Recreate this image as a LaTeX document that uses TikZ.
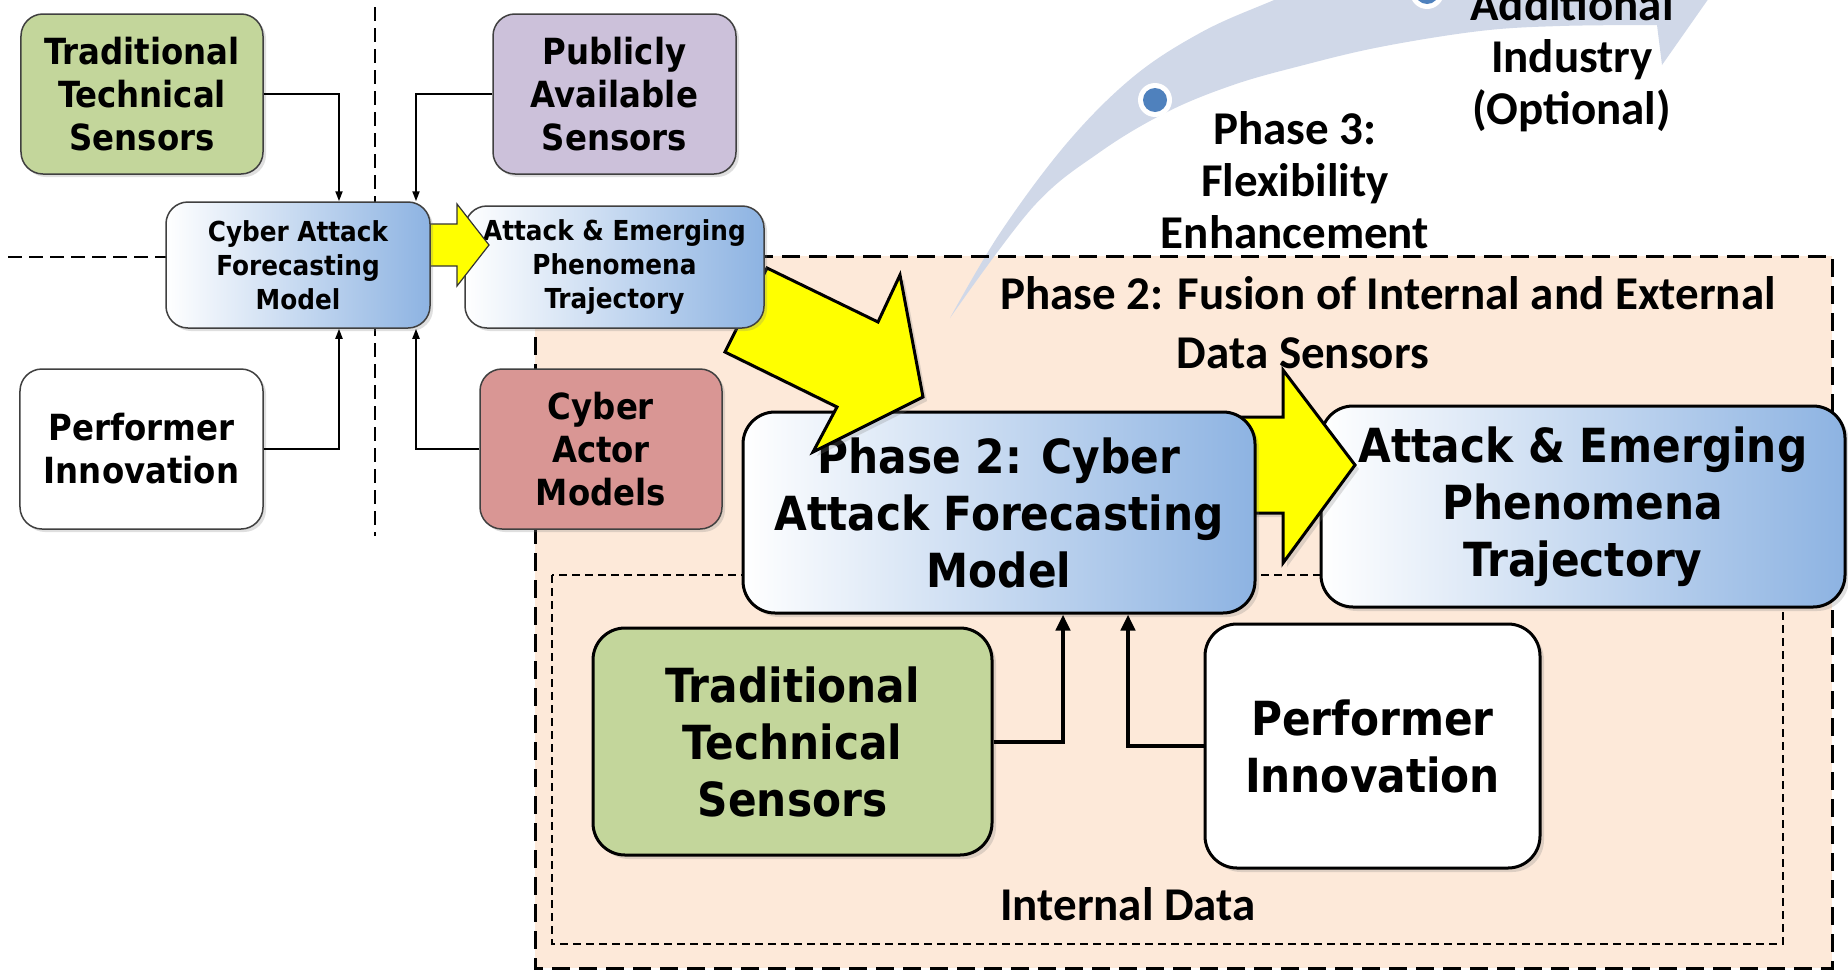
\documentclass[tikz,border=0pt]{standalone}
\usepackage{fontspec}
\usetikzlibrary{shadows,arrows.meta}
\newfontfamily\tahfont{DejaVu Sans Condensed}
\newfontfamily\calfont{Carlito}
\definecolor{grn}{RGB}{195,214,155}
\definecolor{prp}{RGB}{204,193,218}
\definecolor{redb}{RGB}{217,150,148}
\definecolor{peach}{RGB}{253,233,217}
\definecolor{blu}{RGB}{141,179,226}
\definecolor{bandc}{RGB}{208,216,232}
\definecolor{dotb}{RGB}{79,129,189}
\definecolor{yel}{RGB}{255,255,0}
\begin{document}
\begin{tikzpicture}[x=1bp,y=-1bp,
 sbox/.style={draw=black!75, line width=1.5bp, rounded corners=22bp, align=center, inner sep=0pt,
   drop shadow={shadow xshift=3bp, shadow yshift=-3bp, opacity=0.25}},
 bbox/.style={draw=black, line width=3bp, rounded corners=32bp, align=center, inner sep=0pt,
   drop shadow={shadow xshift=4bp, shadow yshift=-4bp, opacity=0.25}},
 bshade/.style={left color=white, right color=blu},
 fs/.style={font=\tahfont\bfseries\fontsize{27.5bp}{34bp}\selectfont},
 fm/.style={font=\tahfont\bfseries\fontsize{36bp}{43bp}\selectfont},
 fl/.style={font=\tahfont\bfseries\fontsize{47bp}{57bp}\selectfont},
 fc/.style={font=\calfont\bfseries\fontsize{47bp}{52bp}\selectfont, align=center, inner sep=0pt},
 conn/.style={line width=2bp, -{Triangle[length=10bp,width=7bp]}},
 bconn/.style={line width=4bp, -{Triangle[length=16bp,width=14bp]}},
 yarrow/.style={fill=yel, draw=black, line width=3bp, line join=miter,
   drop shadow={shadow xshift=4bp, shadow yshift=-4bp, opacity=0.25}},
 syarrow/.style={fill=yel, draw=black!80, line width=1.2bp, line join=miter},
 ldash/.style={line width=2bp, dash pattern=on 14bp off 7bp},
]
\useasboundingbox (0,0) rectangle (1848,978);
\fill[white] (0,0) rectangle (1848,978);

% left dashed guide lines
\coordinate (v1) at (375,7);
\coordinate (v2) at (375,536);
\coordinate (h1) at (8,257);
\coordinate (h2) at (166,257);
\draw[ldash] (v1) -- (v2);
\draw[ldash] (h1) -- (h2);

% phase 2 region
\coordinate (o1) at (535,256);
\coordinate (o2) at (1832,968);
\fill[peach] (o1) rectangle (o2);

% curved band (phase 3)
\begin{scope}
\clip (0,0) rectangle (1848,978);
\fill[bandc] plot[smooth, tension=0.6] coordinates {(950,318) (1000,233) (1067,143) (1133,77) (1200,33) (1267,3) (1340,-25) (1450,-50) (1600,-62)}
  -- (1640,-110) -- (1716,-12) -- (1662,65) -- (1657,25)
  -- plot[smooth, tension=0.6] coordinates {(1657,25) (1560,26) (1480,31) (1380,47) (1300,66) (1233,85) (1167,112) (1100,152) (1033,207) (950,318)} -- cycle;
\fill[white] (1155,100) circle (17bp);
\fill[dotb] (1155,100) circle (12bp);
\fill[white] (1427,-8) circle (17bp);
\fill[dotb] (1427,-8) circle (12bp);
\end{scope}

\draw[line width=3bp, dash pattern=on 18bp off 9bp] (o1) rectangle (o2);
\coordinate (i1) at (552,575);
\coordinate (i2) at (1783,944);
\draw[line width=1.5bp, dash pattern=on 8bp off 5bp] (i1) rectangle (i2);

% texts
\node[fc] (ph3) at (1295,180) {Phase 3:\\Flexibility\\Enhancement};
\node[fc] (addl) at (1572,60) {Additional\\Industry\\(Optional)};
\node[fc] (fus1) at (1388,293) {Phase 2: Fusion of Internal and External};
\node[fc] (fus2) at (1303,353) {Data Sensors};
\node[fc] (intd) at (1128,904) {Internal Data};

% phase 2 boxes
\node[bbox, bshade, fl, minimum width=524bp, minimum height=201bp] (aep2) at (1583,506.5) {Attack \& Emerging\\Phenomena\\Trajectory};
\draw[yarrow] (1240,417) -- (1283,417) -- (1283,370) -- (1355,465) -- (1283,563) -- (1283,513) -- (1240,513) -- cycle;
\node[bbox, bshade, fl, minimum width=512bp, minimum height=201bp] (caf2) at (999,512.5) {Phase 2: Cyber\\Attack Forecasting\\Model};
\draw[yarrow] (767,268) -- (878,322) -- (900,275) -- (923,397) -- (813,452) -- (837,407) -- (725,352) -- cycle;
\node[bbox, fill=grn, fl, minimum width=399bp, minimum height=227bp] (tts2) at (792.5,741.5) {Traditional\\Technical\\Sensors};
\node[bbox, fill=white, fl, minimum width=335bp, minimum height=244bp] (pi2) at (1372.5,746) {Performer\\Innovation};
\coordinate (x1063) at (1063,0);
\coordinate (x1128) at (1128,0);
\draw[bconn] (tts2.east) -| (caf2.south -| x1063);
\draw[bconn] (pi2.west) -| (caf2.south -| x1128);

% top-left section
\node[sbox, fill=grn, fm, minimum width=242bp, minimum height=160bp] (tts1) at (142,94) {Traditional\\Technical\\Sensors};
\node[sbox, fill=prp, fm, minimum width=243bp, minimum height=160bp] (pas) at (614.5,94) {Publicly\\Available\\Sensors};
\node[sbox, fill=white, fm, minimum width=243bp, minimum height=160bp] (pi1) at (141.5,449) {Performer\\Innovation};
\node[sbox, fill=redb, fm, minimum width=242bp, minimum height=160bp] (cam) at (601,449) {Cyber\\Actor\\Models};
\node[sbox, bshade, fs, minimum width=299bp, minimum height=122bp] (aep1) at (614.5,267) {Attack \& Emerging\\Phenomena\\Trajectory};
\draw[syarrow] (425,224) -- (457,224) -- (457,204) -- (489,245) -- (457,286) -- (457,266) -- (425,266) -- cycle;
\node[sbox, bshade, fs, minimum width=264bp, minimum height=126bp] (caf1) at (298,265) {Cyber Attack\\Forecasting\\Model};
\coordinate (x339) at (339,0);
\coordinate (x416) at (416,0);
\draw[conn] (tts1.east) -| (caf1.north -| x339);
\draw[conn] (pas.west) -| (caf1.north -| x416);
\draw[conn] (pi1.east) -| (caf1.south -| x339);
\draw[conn] (cam.west) -| (caf1.south -| x416);
\end{tikzpicture}
\end{document}
